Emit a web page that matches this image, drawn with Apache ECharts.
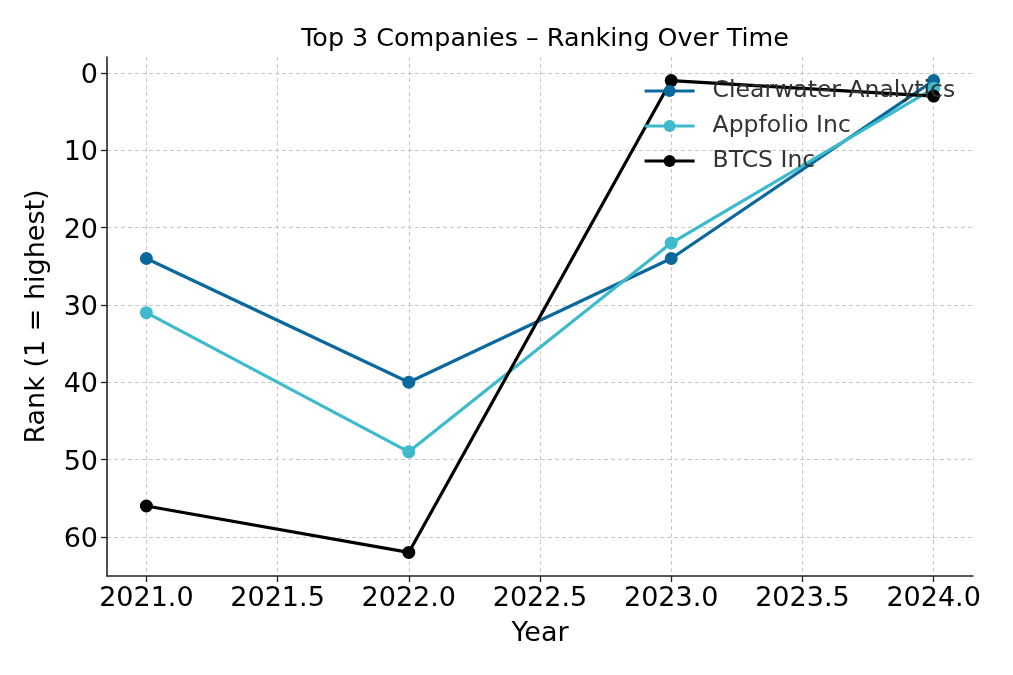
<!DOCTYPE html>
<html><head><meta charset="utf-8">
<script src="https://cdn.jsdelivr.net/npm/echarts@6/dist/echarts.min.js"></script>
<style>html,body{margin:0;padding:0;background:#fff}#c{width:1013px;height:675px}</style>
</head><body><div id="c"></div>
<script>
const years = [2021, 2022, 2023, 2024];
const clearwater = [24, 40, 24, 1];
const appfolio = [31, 49, 22, 2];
const btcs = [56, 62, 1, 3];
const seriesNames = ['Clearwater Analytics', 'Appfolio Inc', 'BTCS Inc'];
const xTicks = [2021.0, 2021.5, 2022.0, 2022.5, 2023.0, 2023.5, 2024.0];
const yTicks = [0, 10, 20, 30, 40, 50, 60];

const colors = ['#0b689c', '#3dbacb', '#000000'];
const font = 'DejaVu Sans';
const chart = echarts.init(document.getElementById('c'));
const mk = (name, vals, color) => ({
  name, type: 'line', data: years.map((y, i) => [y, vals[i]]),
  symbol: 'circle', symbolSize: 13, showSymbol: true,
  lineStyle: {width: 3.2, color}, itemStyle: {color}, color,
  animation: false
});
chart.setOption({
  animation: false,
  title: {text: 'Top 3 Companies – Ranking Over Time', left: 540, textAlign: 'center', top: 22,
    textStyle: {fontFamily: font, fontSize: 25.4, fontWeight: 'normal', color: '#000'}},
  grid: {left: 107, right: 40, top: 57, bottom: 99, containLabel: false},
  legend: {left: 643, top: 78, padding: 0, orient: 'vertical', itemGap: 9, itemWidth: 50, itemHeight: 15,
    lineStyle: {width: 3.2},
    textStyle: {fontFamily: font, fontSize: 23.5, color: '#333', lineHeight: 26, padding: [0, 0, 0, 13]}, data: seriesNames},
  xAxis: {type: 'value', min: 2020.85, max: 2024.15, name: 'Year', nameLocation: 'middle', nameGap: 44,
    nameTextStyle: {fontFamily: font, fontSize: 27, color: '#000'},
    axisLine: {show: true, onZero: false, lineStyle: {color: '#222', width: 1.6}},
    axisTick: {show: true, customValues: xTicks, length: 6, lineStyle: {color: '#222', width: 1.3}},
    axisLabel: {customValues: xTicks, formatter: v => v.toFixed(1), fontFamily: font, fontSize: 27, color: '#000', margin: 9},
    splitLine: {show: true, lineStyle: {color: '#c8c8c8', type: [4, 3], width: 1}}},
  yAxis: {type: 'value', inverse: true, min: -2.05, max: 65.05, name: 'Rank (1 = highest)', nameLocation: 'middle', nameGap: 57,
    nameTextStyle: {fontFamily: font, fontSize: 27, color: '#000'},
    axisLine: {show: true, onZero: false, lineStyle: {color: '#222', width: 1.6}},
    axisTick: {show: true, customValues: yTicks, length: 6, lineStyle: {color: '#222', width: 1.3}},
    axisLabel: {customValues: yTicks, formatter: v => '{a|' + v + '}', margin: 9,
      rich: {a: {fontFamily: font, fontSize: 27, color: '#000', padding: [6, 0, 0, 0]}}},
    splitLine: {show: true, lineStyle: {color: '#c8c8c8', type: [4, 3], width: 1}}},
  series: [mk(seriesNames[0], clearwater, colors[0]), mk(seriesNames[1], appfolio, colors[1]), mk(seriesNames[2], btcs, colors[2])]
});
</script></body></html>
